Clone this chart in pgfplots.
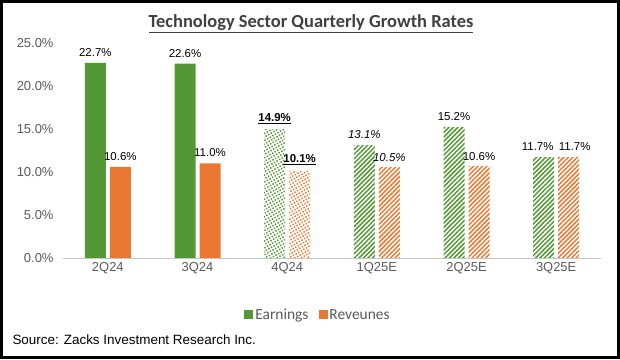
\documentclass[border=0pt]{standalone}
\usepackage{pgfplots}
\pgfplotsset{compat=1.18}
\usepackage{fontspec}
\setmainfont{Liberation Sans}
\newfontfamily\carlito{Carlito}
\usetikzlibrary{patterns.meta}
\definecolor{egreen}{RGB}{84,152,54}
\definecolor{rorange}{RGB}{235,120,50}
\definecolor{tgray}{RGB}{89,89,89}
\definecolor{ttl}{RGB}{64,64,64}
\begin{document}
\begin{tikzpicture}[x=1bp,y=1bp]
\useasboundingbox (0,0) rectangle (620,359);
\draw[line width=3bp] (1.5,1.5) rectangle (618.5,357.5);
\begin{axis}[
  at={(63bp,101bp)}, anchor=south west,
  width=538bp, height=215bp, scale only axis,
  xmin=-0.5, xmax=5.5, ymin=0, ymax=25,
  ybar, bar width=21bp,
  axis line style={draw=none},
  major tick length=0pt,
  ytick={0,5,10,15,20,25},
  yticklabel={\pgfmathprintnumber[fixed,fixed zerofill,precision=1]{\tick}\%},
  xtick={0,1,2,3,4,5},
  xticklabels={2Q24,3Q24,4Q24,1Q25E,2Q25E,3Q25E},
  /pgf/number format/assume math mode=true,
  tick label style={text=tgray, font=\fontsize{13}{15}\selectfont},
  yticklabel style={xshift=-6bp},
  xticklabel style={yshift=-1bp},
  clip=false,
  legend style={draw=none, at={(axis description cs:0.474,-0.265)}, anchor=center,
    font=\carlito\fontsize{15.5}{17}\selectfont, text=tgray, legend columns=2,
    /tikz/every even column/.append style={column sep=8bp}},
  legend image code/.code={\fill[#1] (0bp,-4bp) rectangle (9bp,5bp);},
  nodes near coords={\pgfmathprintnumber[fixed,fixed zerofill,precision=1]{\pgfplotspointmeta}\%},
  every node near coord/.append style={font=\fontsize{11.5}{13}\selectfont, text=black, anchor=south, yshift=3bp},
  lines/.style={draw=none, pattern={Lines[angle=45,distance=3.2bp,line width=1.5bp]}},
  dots/.style={draw=none, pattern={Dots[radius=1.05bp,distance=3bp,angle=30]}},
]
\addplot[fill=egreen, draw=none, bar shift=-12.5bp] coordinates {(0,22.7) (1,22.6)};
\addlegendentry{Earnings}
\addplot[fill=rorange, draw=none, bar shift=12.5bp] coordinates {(0,10.6) (1,11.0)};
\addlegendentry{Reveunes}
\addplot[dots, pattern color=egreen, bar shift=-12.5bp, forget plot,
  nodes near coords={\underline{\textbf{\pgfmathprintnumber[fixed,fixed zerofill,precision=1]{\pgfplotspointmeta}\%}}}]
  coordinates {(2,14.9)};
\addplot[dots, pattern color=rorange, bar shift=12.5bp, forget plot,
  nodes near coords={\underline{\textbf{\pgfmathprintnumber[fixed,fixed zerofill,precision=1]{\pgfplotspointmeta}\%}}}]
  coordinates {(2,10.1)};
\addplot[lines, pattern color=egreen, bar shift=-12.5bp, forget plot,
  nodes near coords={\textit{\pgfmathprintnumber[fixed,fixed zerofill,precision=1]{\pgfplotspointmeta}\%}}]
  coordinates {(3,13.1)};
\addplot[lines, pattern color=rorange, bar shift=12.5bp, forget plot,
  nodes near coords={\textit{\pgfmathprintnumber[fixed,fixed zerofill,precision=1]{\pgfplotspointmeta}\%}}]
  coordinates {(3,10.5)};
\addplot[lines, pattern color=egreen, bar shift=-12.5bp, forget plot] coordinates {(4,15.2)};
\addplot[lines, pattern color=rorange, bar shift=12.5bp, forget plot] coordinates {(4,10.6)};
\addplot[lines, pattern color=egreen, bar shift=-12.5bp, forget plot,
  every node near coord/.append style={xshift=-6bp}] coordinates {(5,11.7)};
\addplot[lines, pattern color=rorange, bar shift=12.5bp, forget plot,
  every node near coord/.append style={xshift=6bp}] coordinates {(5,11.7)};
\draw[gray!45, line width=1bp] (axis cs:-0.5,0) -- (axis cs:5.5,0);
\end{axis}
\node[font=\carlito\bfseries\fontsize{18.5}{21}\selectfont, text=ttl] at (311,335) {\underline{Technology Sector Quarterly Growth Rates}};
\node[anchor=west, font=\fontsize{13.5}{15}\selectfont] at (9,19) {Source: Zacks Investment Research Inc.};
\end{tikzpicture}
\end{document}
